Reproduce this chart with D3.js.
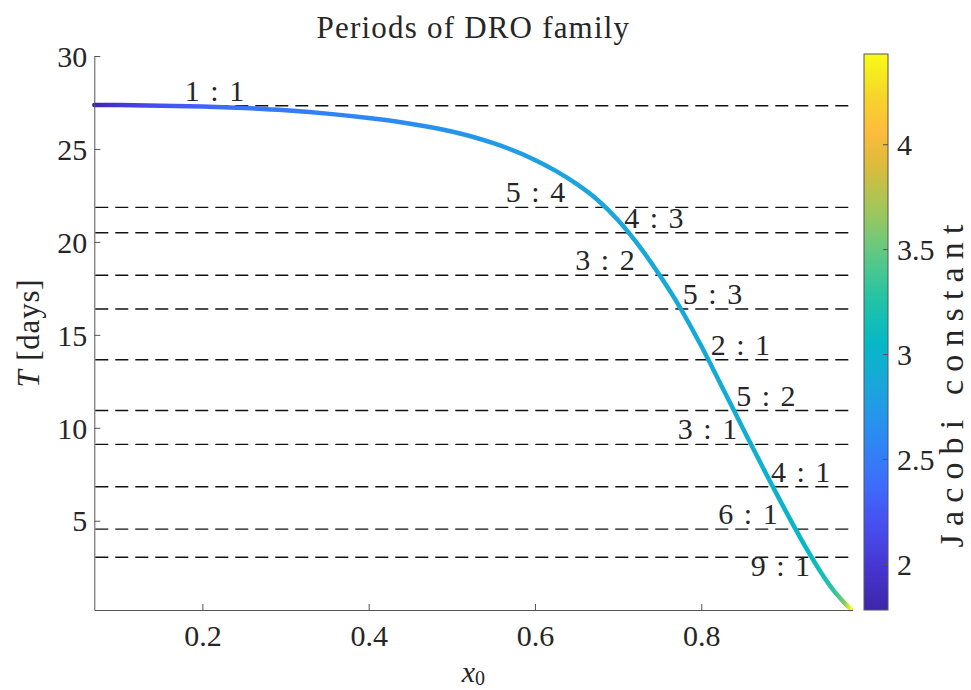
<!DOCTYPE html>
<html>
<head>
<meta charset="utf-8">
<script src="https://cdn.jsdelivr.net/npm/d3@7"></script>
<style>
  body { margin: 0; background: #ffffff; }
  text { font-family: "Liberation Serif", "Times New Roman", serif; fill: #262626; }
</style>
</head>
<body>
<svg id="chart" width="971" height="690"></svg>
<script>
// DRO family: initial position x0, orbital period T [days], Jacobi constant C
const x0Values = [0.07, 0.10, 0.15, 0.20, 0.25, 0.30, 0.35, 0.40, 0.45, 0.50, 0.55, 0.60, 0.625, 0.65, 0.675,
                  0.70, 0.725, 0.75, 0.775, 0.80, 0.825, 0.85, 0.875, 0.90, 0.925, 0.945, 0.96, 0.972, 0.98];
const periodDays = [27.37, 27.36, 27.33, 27.28, 27.20, 27.08, 26.90, 26.66, 26.36, 25.94, 25.31, 24.41, 23.82, 23.12, 22.27,
                    21.17, 19.80, 18.20, 16.43, 14.40, 12.20, 9.98, 7.78, 5.65, 3.62, 2.15, 1.20, 0.60, 0.25];
const jacobiValues = [1.78, 2.00, 2.20, 2.33, 2.42, 2.49, 2.54, 2.59, 2.64, 2.69, 2.74, 2.79, 2.81, 2.83, 2.85,
                      2.86, 2.87, 2.88, 2.89, 2.90, 2.92, 2.94, 2.96, 3.00, 3.06, 3.15, 3.30, 3.60, 4.43];

// Resonance lines (period ratios to the lunar month)
const resonanceNames = ["1 : 1", "5 : 4", "4 : 3", "3 : 2", "5 : 3", "2 : 1", "5 : 2", "3 : 1", "4 : 1", "6 : 1", "9 : 1"];
const resonanceT = [27.32, 21.86, 20.49, 18.21, 16.39, 13.66, 10.93, 9.11, 6.83, 4.55, 3.04];
const labelX = [0.2146, 0.6006, 0.7431, 0.6842, 0.8135, 0.8471, 0.8778, 0.8075, 0.9195, 0.8562, 0.8952];
const labelT = [27.32, 21.86, 20.49, 18.21, 16.39, 13.66, 10.93, 9.11, 6.83, 4.55, 1.75];

// Axis limits and ticks
const xLimits = [0.07, 0.982];
const yLimits = [0.2, 30];
const colorLimits = [1.78, 4.43];
const xTickValues = [0.2, 0.4, 0.6, 0.8];
const yTickValues = [5, 10, 15, 20, 25, 30];
const cTickValues = [2, 2.5, 3, 3.5, 4];

// parula colormap key colours
const parulaPos = [0.00, 0.08, 0.16, 0.24, 0.32, 0.40, 0.48, 0.56, 0.64, 0.72, 0.80, 0.86, 0.92, 1.00];
const parulaColors = ["#3e26a8", "#4636d4", "#4751f1", "#3a72fb", "#2a8df0", "#1ba5dd", "#05b8c5",
                      "#24c3a6", "#5ec885", "#a0c75a", "#dcbb3b", "#fdbc3c", "#f5d42c", "#f9fb15"];

const svg = d3.select("#chart");
const plot = { left: 94.3, right: 852.6, top: 56, bottom: 610 };
const bar = { left: 864, width: 24, top: 54, bottom: 610 };
const fontSize = 30;

const x = d3.scaleLinear().domain(xLimits).range([plot.left, plot.right]);
const y = d3.scaleLinear().domain(yLimits).range([plot.bottom, plot.top]);
const cBar = d3.scaleLinear().domain(colorLimits).range([bar.bottom, bar.top]);
const color = d3.scaleLinear()
  .domain(parulaPos.map(t => colorLimits[0] + t * (colorLimits[1] - colorLimits[0])))
  .range(parulaColors)
  .interpolate(d3.interpolateRgb)
  .clamp(true);

const defs = svg.append("defs");

// Horizontal gradient following the curve's Jacobi constant
const xStart = x(x0Values[0]), xEnd = x(x0Values[x0Values.length - 1]);
const curveGrad = defs.append("linearGradient")
  .attr("id", "curveGrad")
  .attr("gradientUnits", "userSpaceOnUse")
  .attr("x1", xStart).attr("x2", xEnd).attr("y1", 0).attr("y2", 0);
curveGrad.selectAll("stop").data(x0Values).join("stop")
  .attr("offset", d => (x(d) - xStart) / (xEnd - xStart))
  .attr("stop-color", (d, i) => color(jacobiValues[i]));

// Colorbar gradient (bottom to top)
const barGrad = defs.append("linearGradient")
  .attr("id", "barGrad")
  .attr("x1", 0).attr("x2", 0).attr("y1", 1).attr("y2", 0);
barGrad.selectAll("stop").data(d3.range(0, 1.0001, 0.02)).join("stop")
  .attr("offset", d => d)
  .attr("stop-color", d => color(colorLimits[0] + d * (colorLimits[1] - colorLimits[0])));

// Resonance lines
svg.append("g").selectAll("line").data(resonanceT).join("line")
  .attr("x1", plot.left + 1).attr("x2", plot.right)
  .attr("y1", d => y(d)).attr("y2", d => y(d))
  .attr("stroke", "#111").attr("stroke-width", 1.4)
  .attr("stroke-dasharray", "13,7");

// DRO period curve
const line = d3.line()
  .x((d, i) => x(x0Values[i]))
  .y((d, i) => y(periodDays[i]))
  .curve(d3.curveMonotoneX);
svg.append("path")
  .datum(periodDays)
  .attr("d", line)
  .attr("fill", "none")
  .attr("stroke", "url(#curveGrad)")
  .attr("stroke-width", 4.5)
  .attr("stroke-linecap", "round");

// Resonance labels
svg.append("g").selectAll("text").data(resonanceNames).join("text")
  .attr("x", (d, i) => x(labelX[i]))
  .attr("y", (d, i) => y(labelT[i]) - 5)
  .attr("text-anchor", "middle")
  .attr("font-size", fontSize)
  .attr("word-spacing", 3)
  .attr("fill", "#111")
  .attr("xml:space", "preserve")
  .text(d => d);

// Axes
const xAxis = d3.axisBottom(x).tickValues(xTickValues).tickFormat(d3.format("~g"))
  .tickSizeInner(-6).tickSizeOuter(0).tickPadding(15);
const yAxis = d3.axisLeft(y).tickValues(yTickValues).tickFormat(d3.format("~g"))
  .tickSizeInner(-6).tickSizeOuter(0).tickPadding(7);

const gx = svg.append("g").attr("transform", `translate(0,${plot.bottom})`).call(xAxis);
const gy = svg.append("g").attr("transform", `translate(${plot.left},0)`).call(yAxis);
[gx, gy].forEach(g => {
  g.select(".domain").attr("stroke", "#555").attr("stroke-width", 1);
  g.selectAll(".tick line").attr("stroke", "#555").attr("stroke-width", 1);
  g.selectAll(".tick text").attr("font-size", fontSize).attr("font-family", "Liberation Serif").attr("fill", "#262626");
});
gy.selectAll(".tick text").attr("dy", "0.34em");

// Colorbar
svg.append("rect")
  .attr("x", bar.left).attr("y", bar.top)
  .attr("width", bar.width).attr("height", bar.bottom - bar.top)
  .attr("fill", "url(#barGrad)")
  .attr("stroke", "#555").attr("stroke-width", 1);
const cAxis = d3.axisRight(cBar).tickValues(cTickValues).tickFormat(d3.format("~g"))
  .tickSizeInner(-5).tickSizeOuter(0).tickPadding(9);
const gc = svg.append("g").attr("transform", `translate(${bar.left + bar.width},0)`).call(cAxis);
gc.select(".domain").remove();
gc.selectAll(".tick line").attr("stroke", "#555");
gc.selectAll(".tick text").attr("font-size", fontSize).attr("font-family", "Liberation Serif").attr("fill", "#262626").attr("dy", "0.34em");

// Title
svg.append("text")
  .attr("x", (plot.left + plot.right) / 2).attr("y", 38)
  .attr("text-anchor", "middle").attr("font-size", 31)
  .attr("letter-spacing", 1.2)
  .text("Periods of DRO family");

// x label
const xl = svg.append("text")
  .attr("x", (plot.left + plot.right) / 2).attr("y", 682)
  .attr("text-anchor", "middle").attr("font-size", fontSize);
xl.append("tspan").attr("font-style", "italic").text("x");
xl.append("tspan").attr("font-size", 20).attr("dy", 3).text("0");

// y label
const yl = svg.append("text")
  .attr("transform", `translate(39,333) rotate(-90)`)
  .attr("text-anchor", "middle").attr("font-size", 31)
  .attr("letter-spacing", 0.8)
  .attr("xml:space", "preserve");
yl.append("tspan").attr("font-style", "italic").text("T");
yl.append("tspan").text(" [days]");

// colorbar label
svg.append("text")
  .attr("transform", "translate(963,386) rotate(-90)")
  .attr("text-anchor", "middle").attr("font-size", 34)
  .attr("textLength", 323).attr("lengthAdjust", "spacing")
  .text("Jacobi constant");
</script>
</body>
</html>
